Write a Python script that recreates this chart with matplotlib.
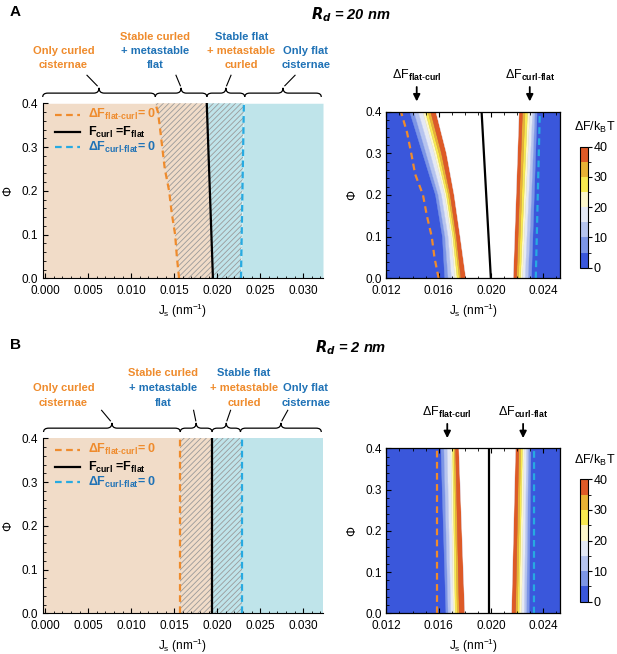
import numpy as np
import matplotlib
matplotlib.use('Agg')
import matplotlib.pyplot as plt
from matplotlib.colors import ListedColormap, BoundaryNorm
from matplotlib.cm import ScalarMappable
from matplotlib.path import Path
from matplotlib.patches import PathPatch
from matplotlib.ticker import MultipleLocator, FormatStrFormatter

plt.rcParams['font.family'] = ['Liberation Sans', 'DejaVu Sans']
plt.rcParams['mathtext.fontset'] = 'custom'
plt.rcParams['mathtext.rm'] = 'Liberation Sans'
plt.rcParams['mathtext.it'] = 'Liberation Sans:italic'
plt.rcParams['mathtext.bf'] = 'Liberation Sans:bold'
plt.rcParams['hatch.linewidth'] = 0.6

ORANGE = '#ef8b2c'
BLUE_TXT = '#1f72b6'
CYAN = '#27aae1'
TAN = '#f1dcc8'
LBLUE = '#bfe4ea'
HATCH = '#9a9a9a'

# --- data ---
phi_line = [0.0, 0.05, 0.1, 0.15, 0.2, 0.25, 0.3, 0.35, 0.38, 0.4]
phi_ends = [0.0, 0.4]
phi_band_a = [0.0, 0.1, 0.2, 0.3, 0.4]

# A, R_d = 20 nm : phase diagram
a_orange = [0.01556, 0.0153, 0.0151, 0.0147, 0.0144, 0.0139, 0.0136, 0.0133, 0.0131, 0.0128]
a_black = [0.0195, 0.01878]
a_cyan = [0.02276, 0.0231]
a_brace_edges = [-0.0003, 0.0128, 0.0188, 0.0232, 0.0321]

# A : zoomed energy-barrier map
a_z_orange = [0.0160, 0.01568, 0.01547, 0.0151, 0.0148, 0.0142, 0.0139, 0.01358, 0.0133, 0.01312]
a_z_black = [0.0200, 0.01929]
a_z_cyan = [0.02344, 0.02375]
# left contour positions, levels 5..40, at phi_band_a
a_left_bounds = [
	[0.01647, 0.01629, 0.01576, 0.01477, 0.01378],
	[0.01673, 0.01649, 0.01597, 0.01504, 0.01411],
	[0.01699, 0.01673, 0.01622, 0.01536, 0.01444],
	[0.01725, 0.01696, 0.01646, 0.01567, 0.01478],
	[0.01742, 0.01709, 0.01660, 0.01585, 0.01498],
	[0.01758, 0.01723, 0.01675, 0.01603, 0.01518],
	[0.01771, 0.01736, 0.01689, 0.01622, 0.01539],
	[0.01809, 0.01765, 0.01719, 0.01660, 0.01579],
]
# right contour positions, levels 5..40, at phi_ends
a_right_bounds = [
	[0.02311, 0.02354],
	[0.02285, 0.02337],
	[0.02262, 0.02319],
	[0.02242, 0.02298],
	[0.02227, 0.02281],
	[0.02212, 0.02262],
	[0.02197, 0.02242],
	[0.02171, 0.02216],
]
a_arrow_x = [0.01432, 0.02298]

# B, R_d = 2 nm : phase diagram
b_orange = [0.01568] * 10
b_black = [0.01943, 0.01943]
b_cyan = [0.02284, 0.02284]
b_brace_edges = [-0.0002, 0.0157, 0.0194, 0.0227, 0.0321]

# B : zoomed energy-barrier map
b_z_orange = [0.01585, 0.01585]
b_z_black = [0.01985, 0.01985]
b_z_cyan = [0.0233, 0.02331]
b_left_bounds = [
	[0.01656, 0.01618],
	[0.01673, 0.01641],
	[0.01694, 0.01666],
	[0.01712, 0.01694],
	[0.01727, 0.01707],
	[0.01742, 0.01719],
	[0.01758, 0.01730],
	[0.01801, 0.01755],
]
b_right_bounds = [
	[0.02293, 0.02306],
	[0.02273, 0.02288],
	[0.02255, 0.02273],
	[0.02235, 0.02255],
	[0.02216, 0.02242],
	[0.02204, 0.02229],
	[0.02189, 0.02214],
	[0.02158, 0.02189],
]
b_arrow_x = [0.01666, 0.02247]

levels = [0, 5, 10, 15, 20, 25, 30, 35, 40]
band_colors = ['#3a57db', '#7c95e6', '#b6c4ef', '#e5e9f5', '#fdf7cb', '#f8ea50', '#e9b235', '#dd5a27']

region_lines = [
	[('Only curled', ORANGE), ('cisternae', ORANGE)],
	[('Stable curled', ORANGE), ('+ metastable', BLUE_TXT), ('flat', BLUE_TXT)],
	[('Stable flat', BLUE_TXT), ('+ metastable', ORANGE), ('curled', ORANGE)],
	[('Only flat', BLUE_TXT), ('cisternae', BLUE_TXT)],
]

XL_LEFT = (-0.0003, 0.0323)
XL_ZOOM = (0.012, 0.0253)


def style_ticks(ax):
	ax.tick_params(which='both', direction='in', labelsize=8.5)
	ax.tick_params(which='major', length=3.5)
	ax.tick_params(which='minor', length=1.8)
	ax.tick_params(axis='x', pad=5)
	ax.yaxis.set_major_locator(MultipleLocator(0.1))
	ax.yaxis.set_minor_locator(MultipleLocator(0.02))
	ax.yaxis.set_major_formatter(FormatStrFormatter('%.1f'))
	ax.set_ylabel('Φ', fontsize=9, labelpad=5)
	ax.set_xlabel(r'J$_{\rm s}$ (nm$^{-1}$)', fontsize=8.5, labelpad=3)


def brace(ax, x0, x1, lead_dx):
	tr = ax.get_xaxis_transform()
	ym, ye, yt = 1.058, 1.036, 1.088
	r = 0.0006
	xm = (x0 + x1) / 2
	verts = [(x0, ye), (x0, ym), (x0 + r, ym), (xm - r, ym), (xm, ym), (xm, yt),
		(xm, ym), (xm + r, ym), (x1 - r, ym), (x1, ym), (x1, ye)]
	codes = [Path.MOVETO, Path.CURVE3, Path.CURVE3, Path.LINETO, Path.CURVE3, Path.CURVE3,
		Path.CURVE3, Path.CURVE3, Path.LINETO, Path.CURVE3, Path.CURVE3]
	ax.add_patch(PathPatch(Path(verts, codes), fill=False, lw=0.9, color='k',
		transform=tr, clip_on=False))
	ax.plot([xm + lead_dx * 0.15, xm + lead_dx], [1.10, 1.16], color='k', lw=0.8,
		transform=tr, clip_on=False)


def phase_panel(ax, orange, black, cyan, edges, lead_dx, text_x, text_y):
	black_l = np.interp(phi_line, phi_ends, black)
	ax.fill_betweenx(phi_line, XL_LEFT[0], orange, color=TAN, lw=0)
	ax.fill_betweenx(phi_line, orange, black_l, facecolor=TAN, edgecolor=HATCH,
		hatch='//////', lw=0)
	ax.fill_betweenx(phi_ends, black, cyan, facecolor=LBLUE, edgecolor=HATCH,
		hatch='//////', lw=0)
	ax.fill_betweenx(phi_ends, cyan, XL_LEFT[1], color=LBLUE, lw=0)
	ax.plot(orange, phi_line, color=ORANGE, lw=1.6, dashes=(3, 2))
	ax.plot(black, phi_ends, color='k', lw=1.6)
	ax.plot(cyan, phi_ends, color=CYAN, lw=1.6, dashes=(3, 2))

	ax.set_xlim(*XL_LEFT)
	ax.set_ylim(0, 0.4)
	for s in ['top', 'right']:
		ax.spines[s].set_visible(False)
	ax.xaxis.set_major_locator(MultipleLocator(0.005))
	ax.xaxis.set_minor_locator(MultipleLocator(0.001))
	ax.xaxis.set_major_formatter(FormatStrFormatter('%.3f'))
	style_ticks(ax)

	# legend drawn by hand
	ta = ax.transAxes
	ax.plot([0.044, 0.133], [0.935, 0.935], color=ORANGE, lw=1.6, dashes=(3, 2), transform=ta)
	ax.plot([0.044, 0.133], [0.835, 0.835], color='k', lw=1.6, transform=ta)
	ax.plot([0.044, 0.133], [0.75, 0.75], color=CYAN, lw=1.6, dashes=(3, 2), transform=ta)
	ax.text(0.163, 0.935, r'ΔF$_{\mathbf{flat\text{-}curl}}$= 0', color=ORANGE,
		fontweight='bold', fontsize=9, va='center', transform=ta)
	ax.text(0.163, 0.835, r'F$_{\mathbf{curl}}$ =F$_{\mathbf{flat}}$', color='k',
		fontweight='bold', fontsize=9, va='center', transform=ta)
	ax.text(0.163, 0.75, r'ΔF$_{\mathbf{curl\text{-}flat}}$= 0', color=BLUE_TXT,
		fontweight='bold', fontsize=9, va='center', transform=ta)

	tr = ax.get_xaxis_transform()
	for i in range(4):
		brace(ax, edges[i], edges[i + 1], lead_dx[i])
		lines = region_lines[i]
		ys = text_y if len(lines) == 3 else text_y[1:]
		for (s, c), y in zip(lines, ys):
			ax.text(text_x[i], y, s, color=c, fontweight='bold', fontsize=8,
				ha='center', va='center', transform=tr, clip_on=False)


def band(ax, xa, pa, xb, pb, color):
	ax.fill(list(xa) + list(xb)[::-1], list(pa) + list(pb)[::-1], facecolor=color,
		edgecolor=color, lw=0.3)


def zoom_panel(ax, cax, orange, black, cyan, lb, lphi, rb, rphi, arrows):
	ax.set_facecolor(band_colors[0])
	for k in range(len(lb) - 1):
		band(ax, lb[k], lphi, lb[k + 1], lphi, band_colors[k + 1])
		band(ax, rb[k], rphi, rb[k + 1], rphi, band_colors[k + 1])
	band(ax, lb[-1], lphi, rb[-1], rphi, 'white')
	ax.plot(orange, phi_line if len(orange) == len(phi_line) else phi_ends,
		color=ORANGE, lw=1.6, dashes=(3, 2))
	ax.plot(black, phi_ends, color='k', lw=1.6)
	ax.plot(cyan, phi_ends, color=CYAN, lw=1.6, dashes=(3, 2))
	ax.set_xlim(*XL_ZOOM)
	ax.set_ylim(0, 0.4)
	ax.xaxis.set_major_locator(MultipleLocator(0.004))
	ax.xaxis.set_minor_locator(MultipleLocator(0.001))
	ax.xaxis.set_major_formatter(FormatStrFormatter('%.3f'))
	style_ticks(ax)
	ax.tick_params(which='both', top=True)
	for s in ax.spines.values():
		s.set_linewidth(0.9)

	tr = ax.get_xaxis_transform()
	names = [r'ΔF$_{\mathbf{flat\text{-}curl}}$', r'ΔF$_{\mathbf{curl\text{-}flat}}$']
	for x, s in zip(arrows, names):
		ax.annotate('', xy=(x, 1.045), xytext=(x, 1.165), xycoords=tr, textcoords=tr,
			arrowprops=dict(arrowstyle='-|>', color='k', lw=1.3, mutation_scale=10))
		ax.text(x, 1.22, s, fontsize=9, ha='center', va='center', transform=tr)

	cmap = ListedColormap(band_colors)
	norm = BoundaryNorm(levels, cmap.N)
	cb = plt.colorbar(ScalarMappable(norm=norm, cmap=cmap), cax=cax, ticks=[0, 10, 20, 30, 40])
	cb.outline.set_linewidth(0.8)
	cax.tick_params(labelsize=9, length=3, direction='out', pad=1)


fig = plt.figure(figsize=(6.17, 6.54), dpi=100)

ax_a = fig.add_axes([0.0692, 0.5745, 0.4543, 0.2676])
ax_az = fig.add_axes([0.6263, 0.5745, 0.2814, 0.2547])
cax_a = fig.add_axes([0.940, 0.5907, 0.013, 0.185])
ax_b = fig.add_axes([0.0692, 0.0622, 0.4543, 0.2676])
ax_bz = fig.add_axes([0.6263, 0.0622, 0.2814, 0.2523])
cax_b = fig.add_axes([0.940, 0.080, 0.013, 0.187])

phase_panel(ax_a, a_orange, a_black, a_cyan, a_brace_edges,
	[-0.0014, -0.0006, 0.0006, 0.0014], [0.0021, 0.0128, 0.0228, 0.0303],
	[1.38, 1.297, 1.217])
zoom_panel(ax_az, cax_a, a_z_orange, a_z_black, a_z_cyan,
	a_left_bounds, phi_band_a, a_right_bounds, phi_ends, a_arrow_x)

phase_panel(ax_b, b_orange, b_black, b_cyan, b_brace_edges,
	[-0.0012, -0.0003, 0.0005, 0.0008], [0.0021, 0.0137, 0.0231, 0.0303],
	[1.375, 1.286, 1.200])
zoom_panel(ax_bz, cax_b, b_z_orange, b_z_black, b_z_cyan,
	b_left_bounds, phi_ends, b_right_bounds, phi_ends, b_arrow_x)

fig.text(10 / 617, 1 - 12 / 654, 'A', fontsize=11, fontweight='bold', va='center')
fig.text(10 / 617, 1 - 345 / 654, 'B', fontsize=11, fontweight='bold', va='center')
fig.text(351 / 617, 1 - 15 / 654, r'$\mathbfit{R_d}$ = 20 nm', fontsize=10.5,
	fontweight='bold', style='italic', ha='center', va='center')
fig.text(351 / 617, 1 - 348 / 654, r'$\mathbfit{R_d}$ = 2 nm', fontsize=10.5,
	fontweight='bold', style='italic', ha='center', va='center')
fig.text(595 / 617, 1 - 127 / 654, r'ΔF/k$_{\rm B}$T', fontsize=9, ha='center', va='center')
fig.text(595 / 617, 1 - 460 / 654, r'ΔF/k$_{\rm B}$T', fontsize=9, ha='center', va='center')

fig.savefig('out.png', dpi=100)
